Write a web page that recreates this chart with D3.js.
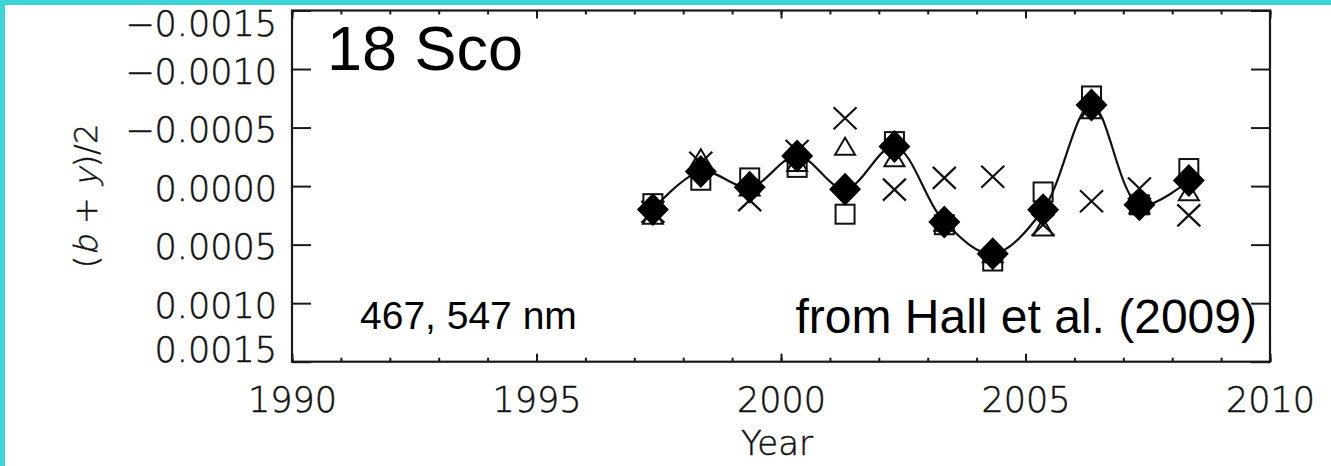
<!DOCTYPE html>
<html>
<head>
<meta charset="utf-8">
<script src="https://cdn.jsdelivr.net/npm/d3@7"></script>
<style>
  body { margin: 0; background: #fff; }
  .tick text { font-family: "DejaVu Sans", sans-serif; font-weight: 200; fill: #111; stroke: #111; stroke-width: 0.5px; }
  .note { font-family: "Liberation Sans", Arial, sans-serif; fill: #000; }
  .thin { font-family: "DejaVu Sans", sans-serif; font-weight: 200; fill: #111; stroke: #111; stroke-width: 0.5px; white-space: pre; }
</style>
</head>
<body>
<div id="chart"></div>
<script>
// Epochs (year) and (b+y)/2 values
const years     = [1997.38, 1998.36, 1999.36, 2000.33, 2001.31, 2002.32, 2003.34, 2004.33, 2005.36, 2006.35, 2007.33, 2008.34];
const meanVals  = [0.00020, -0.000125, 0.00001, -0.000258, 0.000026, -0.000338, 0.000307, 0.000578, 0.000202, -0.000692, 0.00016, -0.000048];
const squareVals   = [0.00015, -0.00005, -0.00007, -0.00016, 0.00024, -0.00038, 0.00033, 0.00064, 0.00005, -0.00077, 0.00016, -0.00015];
const triangleVals = [0.00027, -0.00022, 0.00003, -0.00018, -0.00032, -0.00022, 0.00033, 0.00060, 0.00037, -0.00063, 0.00018, 0.00007];
const crossVals    = [0.00022, -0.00020, 0.00012, -0.00030, -0.00058, 0.00003, -0.00007, -0.00008, 0.00033, 0.00013, 0.00002, 0.00025];

const xMajor = [1990, 1995, 2000, 2005, 2010];
const xMinor = d3.range(1990, 2011, 1);
const yTicks = [-0.0015, -0.0010, -0.0005, 0, 0.0005, 0.0010, 0.0015];

// Position graph
const W = 1331, H = 466;
const plot = { left: 292, right: 1270, top: 10.5, bottom: 361.7 };

const svg = d3.select("#chart")
    .append("svg")
    .attr("width", W)
    .attr("height", H);

// cyan frame at left and top
svg.append("rect").attr("x", 0).attr("y", 0).attr("width", 5).attr("height", H).attr("fill", "#3dd5d8");
svg.append("rect").attr("x", 0).attr("y", 0).attr("width", W).attr("height", 5).attr("fill", "#3dd5d8");

const x = d3.scaleLinear().domain([1990, 2010]).range([plot.left, plot.right]);
const y = d3.scaleLinear().domain([-0.0015, 0.0015]).range([plot.top, plot.bottom]);

const axisColor = "#1a1a1a";
function styleAxis(g) {
    g.select(".domain").remove();
    g.selectAll(".tick line").attr("stroke", axisColor).attr("stroke-width", 2);
}

// bottom axis: minor + major ticks, labels
svg.append("g")
    .attr("transform", `translate(0,${plot.bottom})`)
    .call(d3.axisBottom(x).tickValues(xMinor).tickSize(-4).tickFormat(""))
    .call(styleAxis);
svg.append("g")
    .attr("transform", `translate(0,${plot.bottom})`)
    .call(d3.axisBottom(x).tickValues(xMajor).tickSize(-8).tickPadding(25).tickFormat(d3.format("d")))
    .call(styleAxis)
    .selectAll("text").style("font-size", "35px");

// top axis
svg.append("g")
    .attr("transform", `translate(0,${plot.top})`)
    .call(d3.axisTop(x).tickValues(xMinor).tickSize(-4).tickFormat(""))
    .call(styleAxis);
svg.append("g")
    .attr("transform", `translate(0,${plot.top})`)
    .call(d3.axisTop(x).tickValues(xMajor).tickSize(-8).tickFormat(""))
    .call(styleAxis);

// left axis (end labels are pulled inside the frame, like IDL does)
svg.append("g")
    .attr("transform", `translate(${plot.left},0)`)
    .call(d3.axisLeft(y).tickValues(yTicks).tickSize(-19).tickPadding(15).tickFormat(d3.format(".4f")))
    .call(styleAxis)
    .selectAll("text")
    .style("font-size", "35px")
    .attr("y", d => d === -0.0015 ? 14 : d === 0.0015 ? -11.5 : 3);

// right axis
svg.append("g")
    .attr("transform", `translate(${plot.right},0)`)
    .call(d3.axisRight(y).tickValues(yTicks).tickSize(-19).tickFormat(""))
    .call(styleAxis);

// frame
svg.append("rect")
    .attr("x", plot.left).attr("y", plot.top)
    .attr("width", plot.right - plot.left).attr("height", plot.bottom - plot.top)
    .attr("fill", "none").attr("stroke", axisColor).attr("stroke-width", 2.2);

// axis titles
svg.append("text")
    .attr("class", "thin")
    .attr("x", (plot.left + plot.right) / 2 - 4)
    .attr("y", 455)
    .attr("text-anchor", "middle")
    .style("font-size", "34px")
    .text("Year");

// y title: (b + y)/2 with slanted b and y, built piece by piece
const ylabel = [
    { t: "(", it: false },
    { t: "b", it: true },
    { t: " + ", it: false },
    { t: "y", it: true },
    { t: ")/2", it: false }
];
const yl = svg.append("g").attr("transform", "translate(97,196) rotate(-90)");
const ylInner = yl.append("g");
let cx = 0;
ylabel.forEach(p => {
    const t = ylInner.append("text")
        .attr("class", "thin")
        .style("font-size", "32px")
        .attr("transform", p.it ? `translate(${cx},0) skewX(-14)` : `translate(${cx},0)`)
        .text(p.t);
    cx += t.node().getComputedTextLength() + (p.it ? 1 : 0);
});
ylInner.attr("transform", `translate(${-cx / 2},0)`);

// annotations
svg.append("text").attr("class", "note")
    .attr("x", 327).attr("y", 70)
    .style("font-size", "63px")
    .text("18 Sco");
svg.append("text").attr("class", "note")
    .attr("x", 360).attr("y", 329)
    .style("font-size", "39px")
    .text("467, 547 nm");
svg.append("text").attr("class", "note")
    .attr("x", 1257).attr("y", 333)
    .attr("text-anchor", "end")
    .style("font-size", "48px")
    .text("from Hall et al. (2009)");

// markers
const pts = vals => years.map((yr, i) => ({ yr, v: vals[i] }));
const plotArea = svg.append("g");

plotArea.selectAll(".sq")
    .data(pts(squareVals))
    .enter().append("rect")
    .attr("x", d => x(d.yr) - 9.5)
    .attr("y", d => y(d.v) - 9.5)
    .attr("width", 19).attr("height", 19)
    .attr("fill", "none").attr("stroke", "#111").attr("stroke-width", 2);

plotArea.selectAll(".tri")
    .data(pts(triangleVals))
    .enter().append("path")
    .attr("transform", d => `translate(${x(d.yr)},${y(d.v)})`)
    .attr("d", "M0,-11 L10,6 L-10,6 Z")
    .attr("fill", "none").attr("stroke", "#111").attr("stroke-width", 2);

plotArea.selectAll(".cross")
    .data(pts(crossVals))
    .enter().append("path")
    .attr("transform", d => `translate(${x(d.yr)},${y(d.v)})`)
    .attr("d", "M-11.5,-11 L11.5,11 M-11.5,11 L11.5,-11")
    .attr("fill", "none").attr("stroke", "#111").attr("stroke-width", 2.2);

// smooth curve through the means
const line = d3.line()
    .x(d => x(d.yr))
    .y(d => y(d.v))
    .curve(d3.curveCatmullRom.alpha(0.5));
plotArea.append("path")
    .datum(pts(meanVals))
    .attr("d", line)
    .attr("fill", "none").attr("stroke", "#111").attr("stroke-width", 2.2);

plotArea.selectAll(".dia")
    .data(pts(meanVals))
    .enter().append("path")
    .attr("transform", d => `translate(${x(d.yr)},${y(d.v)})`)
    .attr("d", "M0,-16.5 L16,0 L0,16.5 L-16,0 Z")
    .attr("fill", "#000");
</script>
</body>
</html>
